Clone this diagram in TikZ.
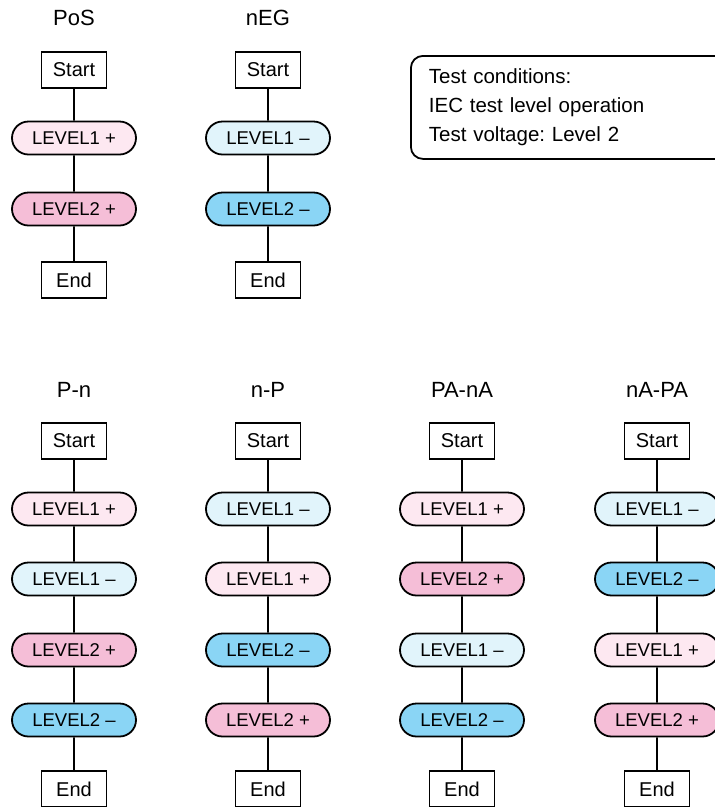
\documentclass[tikz,border=0pt]{standalone}
\usepackage{fontspec}
\setmainfont{Liberation Sans}
\usepackage{tikz}
\usetikzlibrary{positioning}
\usetikzlibrary{shapes.misc}
\frenchspacing

\definecolor{pinklight}{RGB}{253,232,241}
\definecolor{pinkdark}{RGB}{245,190,215}
\definecolor{bluelight}{RGB}{225,244,251}
\definecolor{bluedark}{RGB}{138,213,245}

\begin{document}
\begin{tikzpicture}[x=1pt,y=-1pt,line width=1.8pt,
  title/.style={font=\fontsize{22}{24}\selectfont},
  termbox/.style={draw,rectangle,minimum width=65pt,minimum height=36pt,inner sep=0pt,fill=white,font=\fontsize{20}{22}\selectfont},
  level/.style={draw,rounded rectangle,minimum width=124pt,minimum height=33pt,inner sep=0pt,font=\fontsize{18.5}{20}\selectfont},
  plusone/.style={level,fill=pinklight},
  plustwo/.style={level,fill=pinkdark},
  minusone/.style={level,fill=bluelight},
  minustwo/.style={level,fill=bluedark}]
\useasboundingbox (0,0) rectangle (715,807);
% top row
\node[title] at (74,18) (PosT) {PoS};
\node[termbox] at (74,70) (PosS) {Start};
\node[plusone] at (74,138) (PosA) {LEVEL1 +};
\node[plustwo] at (74,209) (PosB) {LEVEL2 +};
\node[termbox] at (74,280) (PosE) {End};
\node[title] at (268,18) (NegT) {nEG};
\node[termbox] at (268,70) (NegS) {Start};
\node[minusone] at (268,138) (NegA) {LEVEL1 --};
\node[minustwo] at (268,209) (NegB) {LEVEL2 --};
\node[termbox] at (268,280) (NegE) {End};
\draw (PosS) -- (PosA) -- (PosB) -- (PosE);
\draw (NegS) -- (NegA) -- (NegB) -- (NegE);
\node[draw,rounded corners=12pt,anchor=north west,minimum width=320pt,minimum height=103pt,
  inner xsep=18pt,align=left,font=\fontsize{20.5}{29}\selectfont,text width=284pt]
  at (410,55) (Cond) {Test conditions:\\IEC test level operation\\Test voltage: Level 2};
% bottom row
\node[title] at (74,390) (PnT) {P-n};
\node[termbox] at (74,441) (PnS) {Start};
\node[plusone] at (74,509) (PnA) {LEVEL1 +};
\node[minusone] at (74,579) (PnB) {LEVEL1 --};
\node[plustwo] at (74,650) (PnC) {LEVEL2 +};
\node[minustwo] at (74,720) (PnD) {LEVEL2 --};
\node[termbox] at (74,789) (PnE) {End};
\node[title] at (268,390) (NpT) {n-P};
\node[termbox] at (268,441) (NpS) {Start};
\node[minusone] at (268,509) (NpA) {LEVEL1 --};
\node[plusone] at (268,579) (NpB) {LEVEL1 +};
\node[minustwo] at (268,650) (NpC) {LEVEL2 --};
\node[plustwo] at (268,720) (NpD) {LEVEL2 +};
\node[termbox] at (268,789) (NpE) {End};
\node[title] at (462,390) (PanaT) {PA-nA};
\node[termbox] at (462,441) (PanaS) {Start};
\node[plusone] at (462,509) (PanaA) {LEVEL1 +};
\node[plustwo] at (462,579) (PanaB) {LEVEL2 +};
\node[minusone] at (462,650) (PanaC) {LEVEL1 --};
\node[minustwo] at (462,720) (PanaD) {LEVEL2 --};
\node[termbox] at (462,789) (PanaE) {End};
\node[title] at (657,390) (NapaT) {nA-PA};
\node[termbox] at (657,441) (NapaS) {Start};
\node[minusone] at (657,509) (NapaA) {LEVEL1 --};
\node[minustwo] at (657,579) (NapaB) {LEVEL2 --};
\node[plusone] at (657,650) (NapaC) {LEVEL1 +};
\node[plustwo] at (657,720) (NapaD) {LEVEL2 +};
\node[termbox] at (657,789) (NapaE) {End};
\draw (PnS) -- (PnA) -- (PnB) -- (PnC) -- (PnD) -- (PnE);
\draw (NpS) -- (NpA) -- (NpB) -- (NpC) -- (NpD) -- (NpE);
\draw (PanaS) -- (PanaA) -- (PanaB) -- (PanaC) -- (PanaD) -- (PanaE);
\draw (NapaS) -- (NapaA) -- (NapaB) -- (NapaC) -- (NapaD) -- (NapaE);
\end{tikzpicture}
\end{document}
